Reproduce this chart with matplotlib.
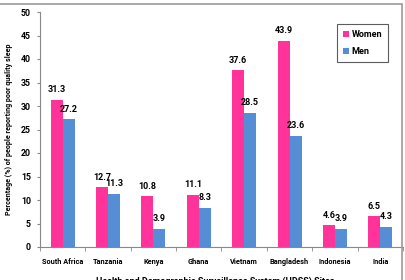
import numpy as np
import matplotlib.pyplot as plt
from matplotlib.patches import Rectangle

sites = ['South Africa', 'Tanzania', 'Kenya', 'Ghana', 'Vietnam', 'Bangladesh', 'Indonesia', 'India']
women = [31.3, 12.7, 10.8, 11.1, 37.6, 43.9, 4.6, 6.5]
men = [27.2, 11.3, 3.9, 8.3, 28.5, 23.6, 3.9, 4.3]

plt.rcParams['font.family'] = ['Roboto', 'DejaVu Sans']
plt.rcParams['font.weight'] = 'bold'

fig = plt.figure(figsize=(4.06, 2.8), dpi=100)
ax = fig.add_axes([40 / 406, 1 - 247 / 280, 363 / 406, 235 / 280])

x = np.arange(len(sites))
width = 0.265
bw = ax.bar(x - width / 2, women, width, color='#ff3399', label='Women')
bm = ax.bar(x + width / 2, men, width, color='#558ed5', label='Men')

# value labels above each bar
for bars, vals in ((bw, women), (bm, men)):
    for b, v in zip(bars, vals):
        ax.text(b.get_x() + b.get_width() / 2, v + 1.2, f'{v}', ha='center', va='bottom',
                fontsize=6.5, fontweight='bold')

ax.set_xlim(-0.5, len(sites) - 0.5)
ax.set_ylim(0, 50)
ax.set_yticks(range(0, 51, 5))
ax.set_xticks(x)
ax.set_xticklabels(sites)
ax.set_xticks(np.arange(-0.5, len(sites), 1), minor=True)
ax.tick_params(axis='x', which='major', length=0, labelsize=5.3, pad=8)
ax.tick_params(axis='x', which='minor', length=3, color='#888888')
ax.tick_params(axis='y', labelsize=6.3, length=2.5, color='#888888', pad=4)
for lbl in ax.get_xticklabels() + ax.get_yticklabels():
    lbl.set_fontweight('bold')

for s in ('top', 'right'):
    ax.spines[s].set_visible(False)
for s in ('left', 'bottom'):
    ax.spines[s].set_color('#888888')
    ax.spines[s].set_linewidth(0.8)

ax.set_ylabel('Percentage (%) of people reporting poor quality sleep', fontsize=5.1,
              fontweight='bold', labelpad=6)

leg = ax.legend(loc='upper right', bbox_to_anchor=(393 / 406, 1 - 19 / 280),
                bbox_transform=fig.transFigure, fontsize=6.5, frameon=True, fancybox=False,
                handlelength=0.6, handleheight=0.6, handletextpad=0.3, borderpad=0.7,
                labelspacing=0.9)
leg.get_frame().set_edgecolor('#333333')
leg.get_frame().set_linewidth(0.8)
for t in leg.get_texts():
    t.set_fontweight('bold')

# x title is cut by the bottom edge in the source image
fig.text(215 / 406, -0.004, 'Health and Demographic Surveillance System (HDSS) Sites',
         ha='center', va='center', fontsize=6.5, fontweight='bold')

fig.patches.append(Rectangle((-0.05, -0.1), 0.05 + 402 / 406, 0.1 + (280 - 4) / 280,
                             transform=fig.transFigure, fill=False, edgecolor='#999999',
                             linewidth=1.2))

fig.savefig('out.png', dpi=100)
